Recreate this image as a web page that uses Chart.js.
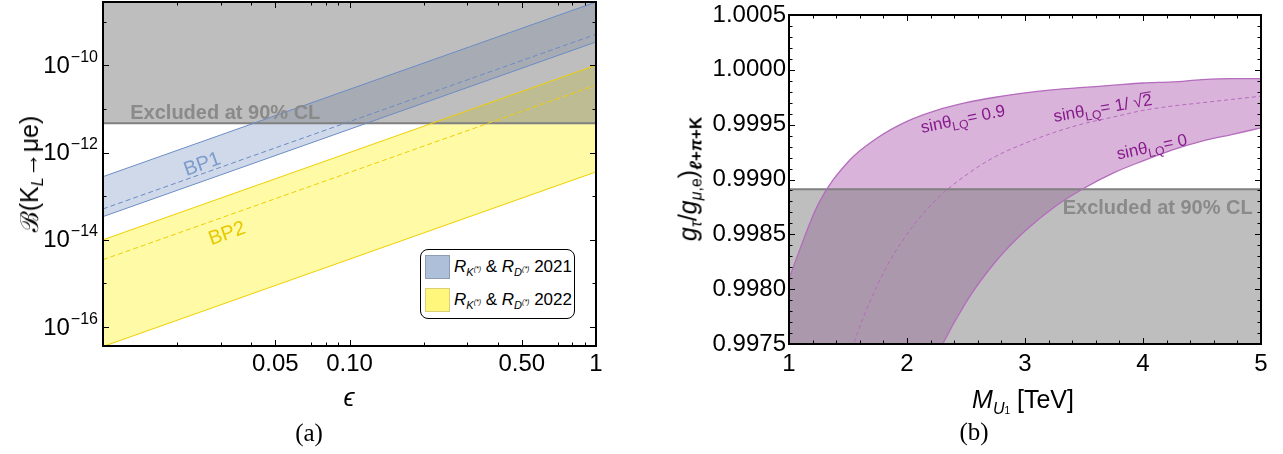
<!DOCTYPE html>
<html>
<head>
<meta charset="utf-8">
<script src="https://cdn.jsdelivr.net/npm/chart.js@4.4.1/dist/chart.umd.min.js"></script>
<style>
  body { margin: 0; background: #fff; width: 1283px; height: 454px; position: relative; overflow: hidden;
         font-family: "Liberation Sans", Arial, sans-serif; color: #000; }
  canvas { position: absolute; top: 0; }
  #chartA { left: 0; }
  #chartB { left: 640px; }
  .t { position: absolute; transform: translate(-50%, -50%); white-space: nowrap; }
  .rot { transform: translate(-50%, -50%) rotate(-90deg); }
  .i { font-style: italic; }
  .cap { font-family: "Liberation Serif", "DejaVu Serif", serif; font-size: 25px; }
  .leg { position: absolute; left: 420px; top: 249px; width: 155px; height: 70px; box-sizing: border-box;
         border: 1px solid #000; border-radius: 8px; background: #fff; }
  .sw { position: absolute; left: 4px; width: 25px; height: 24px; box-sizing: border-box; border: 1px solid; }
  .lt { position: absolute; left: 33px; font-size: 17px; white-space: nowrap; line-height: 20px; }
  .sb { font-size: 11px; position: relative; top: 4px; }
  .sp { font-size: 7px; position: relative; top: -5px; }
</style>
</head>
<body>
<canvas id="chartA" width="640" height="454"></canvas>
<canvas id="chartB" width="643" height="454"></canvas>

<div class="t rot" style="left:28px; top:174px; font-size:25px;">ℬ(K<span style="font-size:16px; position:relative; top:5px;" class="i">L</span>→μe)</div>
<div class="t i" style="left:349px; top:397px; font-size:25px;">ϵ</div>
<div class="t cap" style="left:309px; top:433px;">(a)</div>

<div class="leg">
  <div class="sw" style="top:5px; background:#aebfda; border-color:#8c9cb6;"></div>
  <div class="sw" style="top:38px; background:#fff67c; border-color:#d9cf76;"></div>
  <div class="lt" style="top:7px;"><span class="i">R</span><span class="sb i">K<span class="sp">(*)</span></span> &amp; <span class="i">R</span><span class="sb i">D<span class="sp">(*)</span></span> 2021</div>
  <div class="lt" style="top:40px;"><span class="i">R</span><span class="sb i">K<span class="sp">(*)</span></span> &amp; <span class="i">R</span><span class="sb i">D<span class="sp">(*)</span></span> 2022</div>
</div>

<div class="t rot" style="left:688px; top:179px; font-size:25px;"><span class="i">g</span><span class="i" style="font-size:16px; position:relative; top:5px;">τ</span>/<span class="i">g</span><span style="font-size:16px; position:relative; top:5px;"><span class="i">μ</span>,e</span>)<span style="font-size:17px; font-weight:bold; position:relative; top:5px;"><span class="i">ℓ</span>+<span class="i">π</span>+K</span></div>
<div class="t" style="left:1023px; top:399px; font-size:25px;"><span class="i">M</span><span class="i" style="font-size:16px; position:relative; top:6px;">U<span style="font-size:10px; font-style:normal;">1</span></span> [TeV]</div>
<div class="t cap" style="left:974px; top:432px;">(b)</div>

<script>
// ---------- panel (a): B(K_L -> mu e) vs epsilon ----------
const epsEnds = [0.01, 1];
const bp1Upper = [2.8e-13, 2.8e-9];
const bp1Central = [5.1e-14, 5.1e-10];
const bp1Lower = [3.4e-14, 3.4e-10];
const bp2Upper = [1.0e-14, 1.0e-10];
const bp2Central = [3.5e-15, 3.5e-11];
const bp2Lower = [3.6e-17, 3.6e-13];
const klLimit = 4.7e-12;

const epsMajor = [0.05, 0.1, 0.5, 1];
const epsMajorLabels = ['0.05', '0.10', '0.50', '1'];
const epsMinor = [0.02, 0.03, 0.04, 0.07, 0.08, 0.09, 0.2, 0.3, 0.4, 0.7, 0.8, 0.9];
const brTicks = [1e-16, 1e-15, 1e-14, 1e-13, 1e-12, 1e-11, 1e-10, 1e-9];
const brTickExps = ['−16', '', '−14', '', '−12', '', '−10', ''];

// ---------- panel (b): g_tau/g_mu,e vs M_U1 ----------
const massGrid = [1, 1.25, 1.5, 1.75, 2, 2.25, 2.5, 2.75, 3, 3.25, 3.5, 3.75, 4, 4.25, 4.5, 4.75, 5];
const gSin09 = [0.99810, 0.99878, 0.99916, 0.99938, 0.99953, 0.99963, 0.99970, 0.99975, 0.99979,
                0.99982, 0.99984, 0.99986, 0.99988, 0.99989, 0.99991, 0.99992, 0.99992];
const gSinRt2 = [0.99400, 0.99616, 0.99733, 0.99804, 0.99850, 0.99882, 0.99904, 0.99921, 0.99933,
                 0.99943, 0.99951, 0.99957, 0.99963, 0.99967, 0.99970, 0.99973, 0.99976];
const gSin0 = [0.98675, 0.99152, 0.99411, 0.99567, 0.99669, 0.99738, 0.99788, 0.99825, 0.99853,
               0.99875, 0.99892, 0.99906, 0.99917, 0.99927, 0.99935, 0.99941, 0.99947];
const gLimit = 0.99891;

const massTicks = [1, 2, 3, 4, 5];
const massTickLabels = ['1', '2', '3', '4', '5'];
const ratioTicks = [0.9975, 0.998, 0.9985, 0.999, 0.9995, 1.0, 1.0005];
const ratioTickLabels = ['0.9975', '0.9980', '0.9985', '0.9990', '0.9995', '1.0000', '1.0005'];

const FONT = '"Liberation Sans", Arial, sans-serif';
const pts = (xs, ys) => xs.map((x, i) => ({ x: x, y: ys[i] }));
const findLabel = (vals, labels, v) => {
  const i = vals.findIndex(u => Math.abs(u - v) <= Math.abs(u) * 1e-6);
  return i >= 0 ? labels[i] : '';
};

// inward ticks on all four sides plus the frame
const frame = {
  id: 'frame',
  afterDraw(chart) {
    const ctx = chart.ctx, a = chart.chartArea;
    ctx.save();
    ctx.strokeStyle = '#000';
    ctx.lineWidth = 1;
    ctx.beginPath();
    for (const s of [chart.scales.x, chart.scales.y]) {
      for (const t of s.ticks) {
        const p = Math.round(s.getPixelForValue(t.value)) + 0.5;
        const len = t.major ? 6 : 3.5;
        if (s.isHorizontal()) {
          ctx.moveTo(p, a.bottom); ctx.lineTo(p, a.bottom - len);
          ctx.moveTo(p, a.top); ctx.lineTo(p, a.top + len);
        } else {
          ctx.moveTo(a.left, p); ctx.lineTo(a.left + len, p);
          ctx.moveTo(a.right, p); ctx.lineTo(a.right - len, p);
        }
      }
    }
    ctx.stroke();
    ctx.lineWidth = 2;
    ctx.strokeRect(a.left, a.top, a.right - a.left, a.bottom - a.top);
    ctx.restore();
  }
};

// power-of-ten labels for the log axis of panel (a)
const powLabels = {
  id: 'powLabels',
  afterDraw(chart) {
    const ctx = chart.ctx, s = chart.scales.y, a = chart.chartArea;
    ctx.save();
    ctx.fillStyle = '#000';
    ctx.textBaseline = 'middle';
    ctx.textAlign = 'left';
    s.ticks.forEach((t) => {
      const e = findLabel(brTicks, brTickExps, t.value);
      if (!e) return;
      const p = s.getPixelForValue(t.value);
      ctx.font = '16px ' + FONT;
      const we = ctx.measureText(e).width;
      ctx.font = '24px ' + FONT;
      const wb = ctx.measureText('10').width;
      const x0 = a.left - 6 - we - wb;
      ctx.fillText('10', x0, p + 1);
      ctx.font = '16px ' + FONT;
      ctx.fillText(e, x0 + wb + 1, p - 8);
    });
    ctx.restore();
  }
};

// text notes placed in data coordinates
const notes = {
  id: 'notes',
  afterDatasetsDraw(chart, args, opts) {
    const ctx = chart.ctx, xs = chart.scales.x, ys = chart.scales.y;
    for (const n of opts.items) {
      const px = xs.getPixelForValue(n.x), py = ys.getPixelForValue(n.y);
      ctx.save();
      ctx.translate(px, py);
      ctx.rotate(-(n.rot || 0) * Math.PI / 180);
      let w = 0;
      const segs = n.parts.map(([t, k]) => {
        const size = k === 'sub' ? n.size * 0.72 : n.size;
        const font = (n.weight || 'normal') + ' ' + size + 'px ' + FONT;
        ctx.font = font;
        const mw = ctx.measureText(t).width;
        const seg = { t: t, k: k, font: font, x: w, w: mw };
        w += mw;
        return seg;
      });
      const x0 = n.align === 'left' ? 0 : n.align === 'right' ? -w : -w / 2;
      ctx.fillStyle = n.color;
      ctx.strokeStyle = n.color;
      ctx.textBaseline = 'middle';
      for (const s of segs) {
        ctx.font = s.font;
        const dy = s.k === 'sub' ? n.size * 0.32 : 0;
        ctx.fillText(s.t, x0 + s.x, dy);
        if (s.k === 'over') {
          ctx.lineWidth = 1;
          ctx.beginPath();
          ctx.moveTo(x0 + s.x - 1, -n.size * 0.5);
          ctx.lineTo(x0 + s.x + s.w, -n.size * 0.5);
          ctx.stroke();
        }
      }
      ctx.restore();
    }
  }
};

const lineDs = (data, color, extra) => Object.assign({
  data: data, borderColor: color, borderWidth: 1, pointRadius: 0, fill: false, order: 1
}, extra || {});

const fitAxis = (w, h) => (s) => {
  if (w !== null) s.width = w;
  if (h !== null) s.height = h;
  s.paddingTop = 0; s.paddingBottom = 0; s.paddingLeft = 0; s.paddingRight = 0;
};
const tickList = (vals, majors) => vals.map(v => ({ value: v, major: findLabel(majors, majors, v) !== '' }));

Chart.defaults.font.family = FONT;
Chart.defaults.color = '#000';

new Chart(document.getElementById('chartA'), {
  type: 'line',
  data: {
    datasets: [
      lineDs(pts(epsEnds, bp1Upper), '#6c8cc4'),
      lineDs(pts(epsEnds, bp1Central), '#6c8cc4', { borderDash: [5, 3] }),
      lineDs(pts(epsEnds, bp1Lower), '#6c8cc4'),
      lineDs(pts(epsEnds, bp2Upper), '#f0cf00'),
      lineDs(pts(epsEnds, bp2Central), '#f0cf00', { borderDash: [5, 3] }),
      lineDs(pts(epsEnds, bp2Lower), '#f0cf00'),
      lineDs(pts(epsEnds, [klLimit, klLimit]), '#808080', { borderWidth: 2, order: 2 }),
      lineDs(pts(epsEnds, [klLimit, klLimit]), 'rgba(0,0,0,0)',
             { borderWidth: 0, fill: 'end', backgroundColor: 'rgba(125,125,125,0.5)', order: 3 }),
      lineDs(pts(epsEnds, bp1Upper), 'rgba(0,0,0,0)',
             { borderWidth: 0, fill: { target: 2 }, backgroundColor: '#cfd9ea', order: 4 }),
      lineDs(pts(epsEnds, bp2Upper), 'rgba(0,0,0,0)',
             { borderWidth: 0, fill: { target: 5 }, backgroundColor: '#fffaa6', order: 4 })
    ]
  },
  options: {
    responsive: false,
    animation: false,
    layout: { padding: { left: 0, right: 44, top: 2, bottom: 0 } },
    plugins: {
      legend: { display: false },
      tooltip: { enabled: false },
      notes: {
        items: [
          { x: 0.0129, y: 7.9e-12, align: 'left', size: 20, weight: 'bold', color: '#8a8a8a',
            parts: [['Excluded at 90% CL']] },
          { x: 0.0253, y: 5.3e-13, rot: 19.5, size: 20, color: '#7d9ccc', parts: [['BP1']] },
          { x: 0.0319, y: 1.37e-14, rot: 19.5, size: 20, color: '#e8c800', parts: [['BP2']] }
        ]
      }
    },
    scales: {
      x: {
        type: 'logarithmic', min: 0.01, max: 1,
        grid: { display: false, drawTicks: false }, border: { display: false },
        afterBuildTicks: (s) => { s.ticks = tickList(epsMinor.concat(epsMajor).sort((a, b) => a - b), epsMajor); },
        afterFit: fitAxis(null, 108),
        ticks: { autoSkip: false, maxRotation: 0, minRotation: 0, padding: 4, font: { size: 24 },
                 callback: (v) => findLabel(epsMajor, epsMajorLabels, v) }
      },
      y: {
        type: 'logarithmic', min: 3.7e-17, max: 2.8e-9,
        grid: { display: false, drawTicks: false }, border: { display: false },
        afterBuildTicks: (s) => { s.ticks = brTicks.map(v => ({ value: v, major: findLabel(brTicks, brTickExps, v) !== '' })); },
        afterFit: fitAxis(103, null),
        ticks: { display: false }
      }
    }
  },
  plugins: [notes, powLabels, frame]
});

const massMinor = [];
for (let i = 0; i <= 20; i++) massMinor.push(+(1 + i * 0.2).toFixed(1));
const ratioMinor = [];
for (let i = 0; i <= 30; i++) ratioMinor.push(+(0.9975 + i * 0.0001).toFixed(4));

new Chart(document.getElementById('chartB'), {
  type: 'line',
  data: {
    datasets: [
      lineDs(pts(massGrid, gSin09), '#b46cbc', { cubicInterpolationMode: 'monotone', borderWidth: 1.3 }),
      lineDs(pts(massGrid, gSinRt2), '#b46cbc', { cubicInterpolationMode: 'monotone', borderDash: [4, 3] }),
      lineDs(pts(massGrid, gSin0), '#b46cbc', { cubicInterpolationMode: 'monotone', borderWidth: 1.3 }),
      lineDs(pts([1, 5], [gLimit, gLimit]), '#808080', { borderWidth: 2, order: 2 }),
      lineDs(pts([1, 5], [gLimit, gLimit]), 'rgba(0,0,0,0)',
             { borderWidth: 0, fill: 'start', backgroundColor: 'rgba(125,125,125,0.5)', order: 3 }),
      lineDs(pts(massGrid, gSin09), 'rgba(0,0,0,0)',
             { borderWidth: 0, cubicInterpolationMode: 'monotone', fill: { target: 2 },
               backgroundColor: '#dab3da', order: 4 })
    ]
  },
  options: {
    responsive: false,
    animation: false,
    layout: { padding: { left: 0, right: 22, top: 15, bottom: 0 } },
    plugins: {
      legend: { display: false },
      tooltip: { enabled: false },
      notes: {
        items: [
          { x: 4.93, y: 0.998736, align: 'right', size: 20, weight: 'bold', color: '#8a8a8a',
            parts: [['Excluded at 90% CL']] },
          { x: 2.475, y: 0.999545, rot: 11.6, size: 17, color: '#861a8c',
            parts: [['sinθ'], ['LQ', 'sub'], ['= 0.9']] },
          { x: 3.66, y: 0.999645, rot: 9.9, size: 17, color: '#861a8c',
            parts: [['sinθ'], ['LQ', 'sub'], ['= 1/ '], ['√'], ['2', 'over']] },
          { x: 4.076, y: 0.999291, rot: 11.9, size: 17, color: '#861a8c',
            parts: [['sinθ'], ['LQ', 'sub'], ['= 0']] }
        ]
      }
    },
    scales: {
      x: {
        type: 'linear', min: 1, max: 5,
        grid: { display: false, drawTicks: false }, border: { display: false },
        afterBuildTicks: (s) => { s.ticks = tickList(massMinor, massTicks); },
        afterFit: fitAxis(null, 110),
        ticks: { autoSkip: false, maxRotation: 0, minRotation: 0, padding: 6, font: { size: 24 },
                 callback: (v) => findLabel(massTicks, massTickLabels, v) }
      },
      y: {
        type: 'linear', min: 0.9975, max: 1.0005,
        grid: { display: false, drawTicks: false }, border: { display: false },
        afterBuildTicks: (s) => { s.ticks = tickList(ratioMinor, ratioTicks); },
        afterFit: fitAxis(149, null),
        ticks: { autoSkip: false, padding: 3, font: { size: 24 },
                 callback: (v) => findLabel(ratioTicks, ratioTickLabels, v) }
      }
    }
  },
  plugins: [notes, frame]
});
</script>
</body>
</html>
